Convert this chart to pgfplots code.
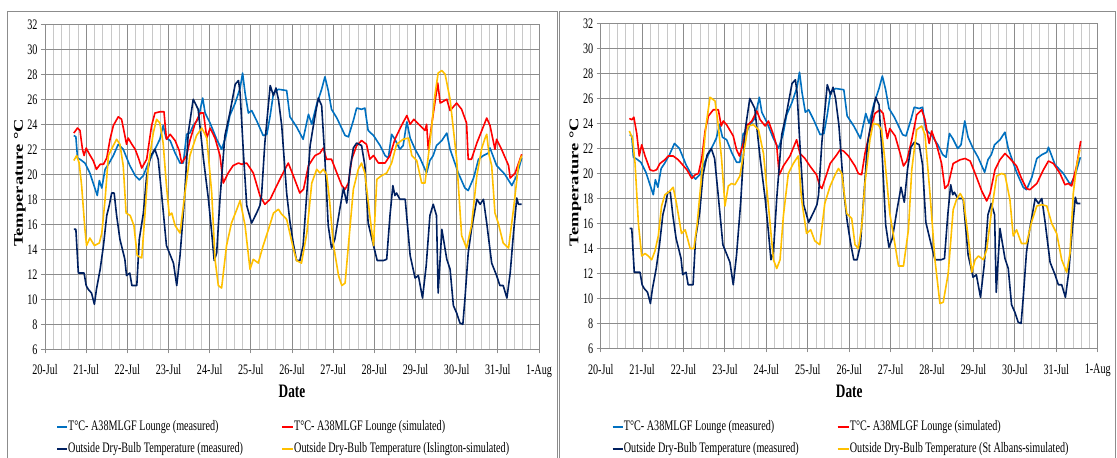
\documentclass[border=0pt]{standalone}
\usepackage{fontspec}
\setmainfont{Liberation Serif}[FakeStretch=0.7]
\newfontfamily\ylfont{Liberation Serif}
\usepackage{graphicx}
\usepackage{pgfplots}
\pgfplotsset{compat=1.18}
\usepackage{pgfplotstable}
\definecolor{cblue}{HTML}{0070C0}
\definecolor{cred}{HTML}{FF0000}
\definecolor{cnavy}{HTML}{002060}
\definecolor{cyel}{HTML}{FFC000}
\definecolor{cgrid}{HTML}{8C8C8C}
\definecolor{cminor}{HTML}{C8C8C8}

% x = days after 20-Jul 00:00
\pgfplotstableread{
x y
0.70 23.1
0.75 23.0
0.79 21.3
0.85 21.2
0.97 20.9
1.09 20.1
1.17 19.3
1.27 18.3
1.32 19.5
1.38 18.9
1.46 20.4
1.54 20.8
1.66 21.5
1.78 22.4
1.90 22.0
2.06 20.7
2.19 19.9
2.29 19.55
2.39 19.9
2.51 20.9
2.67 22.0
2.79 22.8
2.87 23.9
2.94 22.9
3.04 22.7
3.16 21.7
3.28 20.9
3.36 20.9
3.44 23.2
3.52 23.3
3.60 23.9
3.72 24.4
3.83 26.1
3.89 24.9
4.01 24.1
4.17 22.8
4.29 22.0
4.40 23.1
4.49 24.7
4.62 25.7
4.74 26.9
4.80 28.1
4.86 26.5
4.94 24.9
5.02 25.1
5.14 24.3
5.30 23.1
5.39 23.2
5.47 24.7
5.55 26.5
5.67 26.8
5.87 26.7
5.95 24.6
6.11 23.8
6.27 22.8
6.40 24.8
6.48 24.0
6.60 25.6
6.72 26.8
6.80 27.8
6.88 26.7
6.96 25.2
7.09 24.5
7.29 23.1
7.37 23.0
7.49 24.3
7.57 25.3
7.69 25.2
7.77 25.3
7.85 23.5
7.98 23.1
8.14 22.3
8.26 21.5
8.34 21.3
8.42 23.2
8.50 22.8
8.62 22.0
8.70 22.3
8.79 24.2
8.87 22.9
8.99 22.0
9.11 21.3
9.27 20.1
9.35 21.1
9.43 21.5
9.51 22.3
9.64 22.7
9.76 23.3
9.84 22.0
10.04 20.1
10.20 18.9
10.28 18.7
10.41 19.7
10.53 21.2
10.65 21.5
10.77 21.7
10.81 22.1
10.97 20.7
11.17 20.0
11.34 19.1
11.46 19.9
11.58 21.3
}\tblue

\pgfplotstableread{
x y
0.70 15.6
0.75 15.6
0.81 12.1
0.89 12.1
0.95 12.1
1.00 11.1
1.05 10.8
1.13 10.5
1.20 9.6
1.25 10.8
1.34 12.4
1.42 14.3
1.50 16.7
1.56 17.5
1.62 18.5
1.68 18.5
1.74 16.7
1.82 14.8
1.94 13.2
1.98 11.9
2.06 12.1
2.11 11.1
2.23 11.1
2.29 14.8
2.39 16.9
2.47 19.9
2.57 21.5
2.67 22.0
2.75 21.2
2.83 18.5
2.95 14.3
3.12 12.9
3.20 11.1
3.28 13.5
3.38 17.7
3.48 23.3
3.60 26.0
3.72 25.2
3.85 21.2
3.97 18.0
4.05 15.3
4.11 13.1
4.17 13.7
4.25 18.0
4.37 23.1
4.49 24.9
4.62 27.2
4.70 27.5
4.74 26.5
4.82 21.7
4.90 17.5
5.02 16.1
5.14 16.9
5.22 17.5
5.26 18.3
5.34 22.5
5.47 27.1
5.55 26.3
5.61 26.9
5.67 26.0
5.75 23.9
5.87 18.5
5.95 16.2
6.03 14.5
6.11 13.1
6.19 13.1
6.27 14.3
6.36 18.5
6.44 22.3
6.56 24.7
6.64 26.1
6.72 25.5
6.80 21.2
6.88 15.9
6.96 14.1
7.04 14.8
7.16 17.2
7.25 18.9
7.33 17.7
7.41 20.4
7.49 22.1
7.57 22.5
7.69 22.3
7.77 20.7
7.85 16.1
7.98 14.3
8.07 13.1
8.22 13.1
8.30 13.2
8.38 16.7
8.45 19.1
8.50 18.3
8.54 18.5
8.62 18.0
8.75 18.0
8.87 13.5
8.99 11.7
9.07 11.9
9.17 10.1
9.26 12.7
9.35 16.7
9.43 17.6
9.51 16.7
9.55 10.5
9.64 15.6
9.76 13.2
9.84 12.4
9.92 9.5
10.00 8.9
10.08 8.1
10.15 8.0
10.20 10.0
10.28 13.7
10.36 15.6
10.49 18.0
10.57 17.6
10.65 18.0
10.73 16.1
10.85 12.9
10.97 11.9
11.05 11.1
11.13 11.1
11.22 10.1
11.30 12.1
11.38 15.3
11.46 18.1
11.50 17.6
11.58 17.6
}\tnavy

\pgfplotstableread{
x y
0.70 23.3
0.79 23.7
0.85 23.5
0.91 22.0
0.95 21.5
1.00 22.1
1.08 21.6
1.17 21.1
1.25 20.4
1.34 20.8
1.42 20.8
1.50 21.3
1.58 22.8
1.66 23.9
1.78 24.6
1.86 24.4
1.94 23.1
1.98 22.4
2.02 22.9
2.11 22.4
2.19 22.0
2.27 21.3
2.35 20.5
2.47 21.2
2.59 23.9
2.67 24.9
2.79 25.0
2.89 25.0
2.95 22.8
3.04 23.2
3.16 22.7
3.26 21.9
3.32 20.9
3.44 21.5
3.52 22.7
3.64 24.0
3.77 24.9
3.85 24.9
3.93 22.9
4.01 23.7
4.13 22.9
4.25 21.5
4.33 19.3
4.45 20.1
4.57 20.7
4.70 20.9
4.78 20.8
4.90 20.9
5.06 20.1
5.22 18.3
5.34 17.6
5.47 18.0
5.63 19.1
5.75 19.9
5.91 20.9
6.03 19.9
6.19 18.5
6.28 18.8
6.40 20.7
6.56 21.5
6.68 21.7
6.76 22.1
6.84 21.2
6.96 21.2
7.09 20.1
7.21 19.1
7.29 18.8
7.37 19.3
7.45 21.2
7.57 22.3
7.69 22.7
7.81 22.4
7.89 21.2
7.98 21.5
8.10 20.9
8.26 20.9
8.38 21.5
8.50 22.8
8.66 23.9
8.79 24.7
8.87 24.0
8.96 24.4
9.11 23.9
9.23 23.5
9.27 24.0
9.31 22.0
9.39 23.9
9.47 25.7
9.54 27.3
9.60 25.7
9.76 26.0
9.84 25.1
10.00 25.7
10.12 25.2
10.24 24.1
10.28 21.2
10.36 21.2
10.49 22.5
10.61 23.5
10.73 24.5
10.81 23.9
10.93 22.0
10.97 22.8
11.09 22.0
11.26 20.7
11.30 19.7
11.42 20.1
11.58 21.6
}\tredL

\pgfplotstableread{
x y
0.70 21.1
0.77 21.5
0.83 20.9
0.89 19.1
0.97 15.6
1.01 14.3
1.09 14.9
1.20 14.3
1.32 14.5
1.38 15.3
1.46 18.0
1.54 21.5
1.66 22.3
1.74 22.8
1.82 22.4
1.90 20.7
1.97 16.9
2.07 16.7
2.16 15.9
2.24 13.5
2.35 13.3
2.43 16.9
2.51 20.7
2.63 23.3
2.71 24.4
2.79 24.1
2.87 22.5
2.95 19.1
3.02 16.7
3.08 16.9
3.16 15.9
3.28 15.3
3.40 18.5
3.52 21.5
3.68 23.1
3.81 23.7
3.93 22.9
4.05 18.5
4.13 13.2
4.21 11.1
4.29 10.9
4.41 14.3
4.53 16.1
4.66 17.2
4.74 17.9
4.86 15.9
4.98 12.4
5.06 13.2
5.18 12.9
5.30 14.3
5.43 15.6
5.55 16.9
5.67 17.2
5.75 16.8
5.87 16.4
6.03 14.1
6.11 13.1
6.23 12.9
6.36 15.3
6.48 19.3
6.60 20.4
6.68 20.1
6.76 20.4
6.84 20.0
6.91 18.0
7.00 14.5
7.13 11.9
7.21 11.1
7.29 11.3
7.37 14.3
7.49 18.8
7.61 20.4
7.69 20.9
7.77 20.1
7.89 16.7
7.98 14.3
8.06 19.6
8.18 19.9
8.30 20.1
8.42 20.9
8.54 22.4
8.70 22.8
8.83 22.9
8.91 21.5
9.03 21.1
9.15 19.3
9.23 19.3
9.35 22.5
9.47 26.3
9.55 28.1
9.64 28.3
9.72 28.0
9.84 26.0
10.00 21.2
10.12 15.1
10.24 14.1
10.36 15.9
10.49 19.9
10.61 22.1
10.69 22.9
10.73 23.2
10.79 21.5
10.85 20.7
10.93 16.9
11.01 16.1
11.13 14.5
11.26 14.1
11.38 17.2
11.50 20.7
11.58 21.5
}\tyelL

\pgfplotstableread{
x y
0.69 24.4
0.75 24.3
0.80 24.5
0.87 23.2
0.93 21.4
0.99 22.3
1.07 21.4
1.19 20.3
1.27 20.2
1.35 20.3
1.43 20.8
1.55 21.1
1.63 21.4
1.75 21.4
1.87 21.1
1.95 20.8
2.08 20.3
2.20 19.6
2.28 19.9
2.36 20.0
2.44 21.2
2.52 23.4
2.60 24.6
2.72 25.1
2.84 25.1
2.91 23.8
2.96 24.2
3.04 23.9
3.20 23.0
3.28 21.9
3.35 21.4
3.44 22.4
3.52 23.8
3.65 24.2
3.77 25.0
3.85 24.3
3.97 23.8
4.05 24.2
4.17 23.1
4.25 22.2
4.31 19.9
4.41 20.6
4.57 21.4
4.73 22.7
4.81 21.6
4.93 21.2
5.05 20.6
5.21 19.9
5.29 19.0
5.34 18.8
5.42 19.6
5.54 20.8
5.70 21.5
5.78 21.9
5.86 21.8
5.98 21.4
6.14 20.6
6.22 20.0
6.30 19.9
6.38 21.6
6.50 23.4
6.62 24.8
6.74 25.1
6.82 24.8
6.92 22.8
6.98 23.6
7.11 23.0
7.23 21.6
7.31 20.6
7.39 21.0
7.51 22.7
7.63 24.7
7.75 25.1
7.83 24.3
7.93 22.4
7.99 23.4
8.11 22.3
8.23 20.8
8.31 18.8
8.39 19.1
8.51 20.8
8.68 21.1
8.80 21.2
8.92 21.0
9.04 20.0
9.20 18.6
9.32 17.8
9.40 18.4
9.52 20.3
9.64 21.1
9.76 21.6
9.88 21.2
10.04 20.6
10.16 19.6
10.28 18.8
10.36 18.7
10.53 19.2
10.69 20.3
10.81 21.0
10.93 20.8
11.09 20.0
11.21 19.1
11.29 19.2
11.37 19.0
11.49 20.6
11.59 22.6
}\tredR

\pgfplotstableread{
x y
0.69 23.4
0.77 22.8
0.83 20.8
0.91 16.0
0.99 13.4
1.07 13.6
1.15 13.4
1.23 13.1
1.31 13.8
1.39 15.0
1.47 17.4
1.55 18.3
1.67 18.6
1.75 18.9
1.83 17.6
1.95 15.2
2.04 15.5
2.16 14.0
2.25 14.0
2.33 16.0
2.44 20.0
2.54 23.8
2.64 26.1
2.76 25.8
2.84 23.8
2.92 21.1
3.00 17.4
3.08 19.0
3.16 19.2
3.24 19.1
3.36 19.8
3.48 22.2
3.56 23.8
3.69 23.9
3.81 23.5
3.93 21.6
4.05 17.4
4.17 13.1
4.25 12.4
4.33 13.1
4.41 16.6
4.53 20.0
4.65 20.8
4.77 21.4
4.85 17.9
4.97 15.2
5.07 15.5
5.17 14.6
5.29 14.3
5.41 17.6
5.54 19.0
5.66 19.9
5.74 20.4
5.82 20.0
5.94 16.8
6.06 16.4
6.14 14.3
6.22 14.0
6.30 15.7
6.38 19.2
6.50 22.7
6.58 24.0
6.70 23.9
6.78 23.5
6.86 21.1
6.98 16.8
7.11 14.2
7.19 12.6
7.31 12.6
7.43 15.5
7.51 20.3
7.63 23.5
7.75 23.8
7.83 23.1
7.95 18.4
8.07 13.1
8.19 9.6
8.27 9.7
8.39 12.0
8.51 17.1
8.59 17.9
8.68 18.4
8.76 17.9
8.88 14.7
8.96 12.1
9.04 13.1
9.12 13.4
9.24 13.1
9.32 13.9
9.44 17.1
9.56 19.8
9.68 20.0
9.76 19.9
9.88 17.9
9.96 15.0
10.04 15.5
10.16 14.4
10.28 14.4
10.41 16.2
10.53 17.4
10.65 17.5
10.77 17.4
10.89 16.0
11.01 15.2
11.13 13.1
11.25 12.1
11.33 13.6
11.41 18.4
11.49 20.6
11.57 21.9
}\tyelR

\pgfplotsset{
  panel/.style={
    scale only axis,
    height=325bp,
    xmin=0, xmax=12, ymin=6, ymax=32,
    xtick={0,...,12},
    xticklabels={20-Jul,21-Jul,22-Jul,23-Jul,24-Jul,25-Jul,26-Jul,27-Jul,28-Jul,29-Jul,30-Jul,31-Jul,1-Aug},
    ytick={6,8,...,32},
    minor x tick num=4,
    grid=both,
    major grid style={cgrid, line width=1bp},
    minor grid style={cminor, line width=0.7bp},
    axis x line*=bottom, axis y line*=left,
    axis line style={cgrid, line width=1bp, -},
    tick align=outside,
    major tick length=4bp, minor tick length=0bp,
    tick style={cgrid, line width=1bp},
    /pgf/number format/assume math mode=true,
    tick label style={font=\fontsize{14.5bp}{16bp}\selectfont, text=black},
    xticklabel style={yshift=-8bp},
    xlabel={Date},
    xlabel style={font=\fontsize{19bp}{22bp}\selectfont\bfseries, at={(axis description cs:0.5,-0.131)}, anchor=center},
    ylabel={\scalebox{1}[0.72]{\ylfont\fontsize{18.5bp}{22bp}\selectfont\bfseries Temperature °C}},
    ylabel style={at={(axis description cs:-0.051,0.512)}, anchor=center},
    every axis plot/.append style={line width=1.6bp, no markers, line join=round},
    clip=false,
  },
}

\begin{document}
\begin{tikzpicture}[x=1bp,y=1bp]
\useasboundingbox (0,0) rectangle (1117,458);
\draw[cgrid, line width=0.8bp] (7,-5) -- (7,447) -- (557,447) -- (557,-5);
\draw[cgrid, line width=0.8bp] (559,-5) -- (559,447) -- (1115,447) -- (1115,-5);

\begin{axis}[panel, width=494bp, at={(45bp,108.7bp)}, anchor=south west]
\addplot[cblue] table {\tblue};
\addplot[cred] table {\tredL};
\addplot[cnavy] table {\tnavy};
\addplot[cyel] table {\tyelL};
\end{axis}

\begin{axis}[panel, width=497bp, at={(600.7bp,109.5bp)}, anchor=south west]
\addplot[cblue] table {\tblue};
\addplot[cred] table {\tredR};
\addplot[cnavy] table {\tnavy};
\addplot[cyel] table {\tyelR};
\end{axis}

\begin{scope}[every node/.style={font=\fontsize{14.5bp}{16bp}\selectfont, inner sep=0pt, anchor=west}]
\foreach \dx/\lbl in {0/Islington-simulated, 555.7/St Albans-simulated}{
  \draw[cblue, line width=1.8bp] (57+\dx,31) -- (67+\dx,31);
  \node at (68+\dx,31) {T°C- A38MLGF Lounge (measured)};
  \draw[cred, line width=1.8bp] (282+\dx,31) -- (293+\dx,31);
  \node at (294+\dx,31) {T°C- A38MLGF Lounge (simulated)};
  \draw[cnavy, line width=1.8bp] (57+\dx,9) -- (67+\dx,9);
  \node at (68+\dx,9) {Outside Dry-Bulb Temperature (measured)};
  \draw[cyel, line width=1.8bp] (282+\dx,9) -- (293+\dx,9);
  \node at (294+\dx,9) {Outside Dry-Bulb Temperature (\lbl)};
}
\end{scope}
\end{tikzpicture}
\end{document}
